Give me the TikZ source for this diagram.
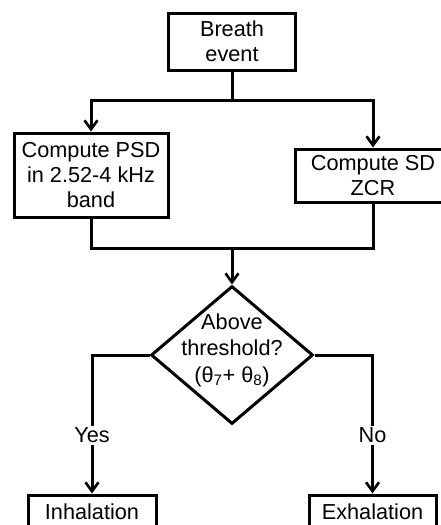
\documentclass[tikz,border=0pt]{standalone}
\usepackage{fontspec}
\setmainfont{Liberation Sans}
\usetikzlibrary{shapes.geometric,arrows.meta}
\begin{document}
\begin{tikzpicture}[x=1pt,y=-1pt,
  line width=3pt,
  font=\fontsize{21.7}{25}\selectfont,
  box/.style={draw,rectangle,align=center,inner sep=0pt},
  dec/.style={draw,diamond,align=center,inner sep=0pt,minimum width=162pt,minimum height=138pt},
  conn/.style={-{Straight Barb[length=9pt,width=13pt,line width=2.6pt]}},
  lbl/.style={fill=white,inner sep=2pt}]
\useasboundingbox (0,0) rectangle (441,525);
\clip (0,0) rectangle (441,525);
\node[box,minimum width=127pt,minimum height=57pt] (breath) at (232,41.5) {Breath\\event};
\node[box,minimum width=154pt,minimum height=84pt] (psd) at (91,175) {Compute PSD\\in 2.52-4 kHz\\band};
\node[box,minimum width=156pt,minimum height=53pt] (sd) at (373,175.5) {Compute SD\\ZCR};
\node[dec] (thr) at (232,355) {};
\node[align=center] (thrtext) at (232,350) {Above\\[1pt]threshold?\\[2pt](θ\textsubscript{7}+ θ\textsubscript{8})};
\node[box,minimum width=128pt,minimum height=34pt] (inh) at (92,512) {Inhalation};
\node[box,minimum width=127pt,minimum height=34pt] (exh) at (372.5,512) {Exhalation};
\coordinate (s1) at (232,100);
\coordinate (s2) at (232,248);
\draw (breath.south) -- (s1);
\draw[conn] (s1) -| (psd.north);
\draw[conn] (s1) -| (sd.north);
\draw (psd.south) |- (s2);
\draw (sd.south) |- (s2);
\draw[conn] (s2) -- (thr.north);
\draw[conn] (thr.west) -| node[lbl,pos=0.79] {Yes} (inh.north);
\draw[conn] (thr.east) -| node[lbl,pos=0.79] {No} (exh.north);
\end{tikzpicture}
\end{document}
